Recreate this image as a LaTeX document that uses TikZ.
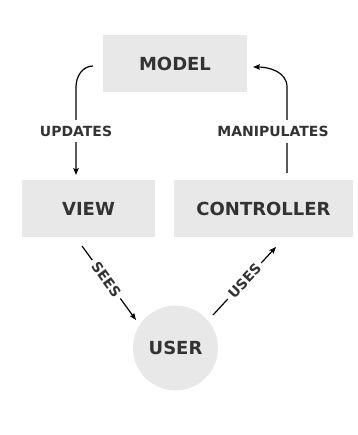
\documentclass[tikz,border=0pt]{standalone}
\usepackage{fontspec}
\setmainfont{DejaVu Sans}
\usetikzlibrary{arrows.meta}
\definecolor{boxgray}{HTML}{E8E8E8}
\definecolor{ink}{HTML}{333333}

\begin{document}
\begin{tikzpicture}[x=1pt,y=1pt]
  \tikzset{part/.style={fill=boxgray,text=ink,inner sep=0pt,
      font=\fontsize{18}{20}\selectfont\bfseries},
    flow/.style={draw=black,line width=1.2pt,
      -{Stealth[length=7pt,width=5.5pt,inset=1.5pt]}},
    tag/.style={fill=white,text=ink,inner xsep=4pt,inner ysep=6pt,
      font=\fontsize{14}{16}\selectfont\bfseries}}
  \useasboundingbox (0,0) rectangle (357,435);
  % the three parts and the user
  \node[part,minimum width=144pt,minimum height=57pt] (model) at (175,371) {MODEL};
  \node[part,minimum width=133pt,minimum height=57pt] (view) at (88.5,226.5) {VIEW};
  \node[part,minimum width=179pt,minimum height=57pt] (ctrl) at (263.5,226.5) {CONTROLLER};
  \node[part,circle,minimum size=85pt] (user) at (175.5,87) {USER};
  % free ends of the connectors
  \coordinate (updFrom) at (93,369);
  \coordinate (updBend) at (76,348);
  \coordinate (updTo) at (76,260);
  \coordinate (manFrom) at (287,262);
  \coordinate (manBend) at (287,348);
  \coordinate (manTo) at (253,368);
  \coordinate (seeFrom) at (82,189);
  \coordinate (seeTo) at (136,115);
  \coordinate (useFrom) at (213,120);
  \coordinate (useTo) at (276,188);
  % connectors
  \draw[flow] (updFrom) to[out=180,in=90] (updBend)
    -- node[tag,pos=.5] {UPDATES} (updTo);
  \draw[flow] (manFrom) -- node[tag,pos=.48,xshift=-14pt] {MANIPULATES} (manBend)
    to[out=90,in=0] (manTo);
  \draw[flow] (seeFrom) -- node[tag,sloped,pos=.45] {SEES} (seeTo);
  \draw[flow] (useFrom) -- node[tag,sloped,pos=.5] {USES} (useTo);
\end{tikzpicture}
\end{document}
